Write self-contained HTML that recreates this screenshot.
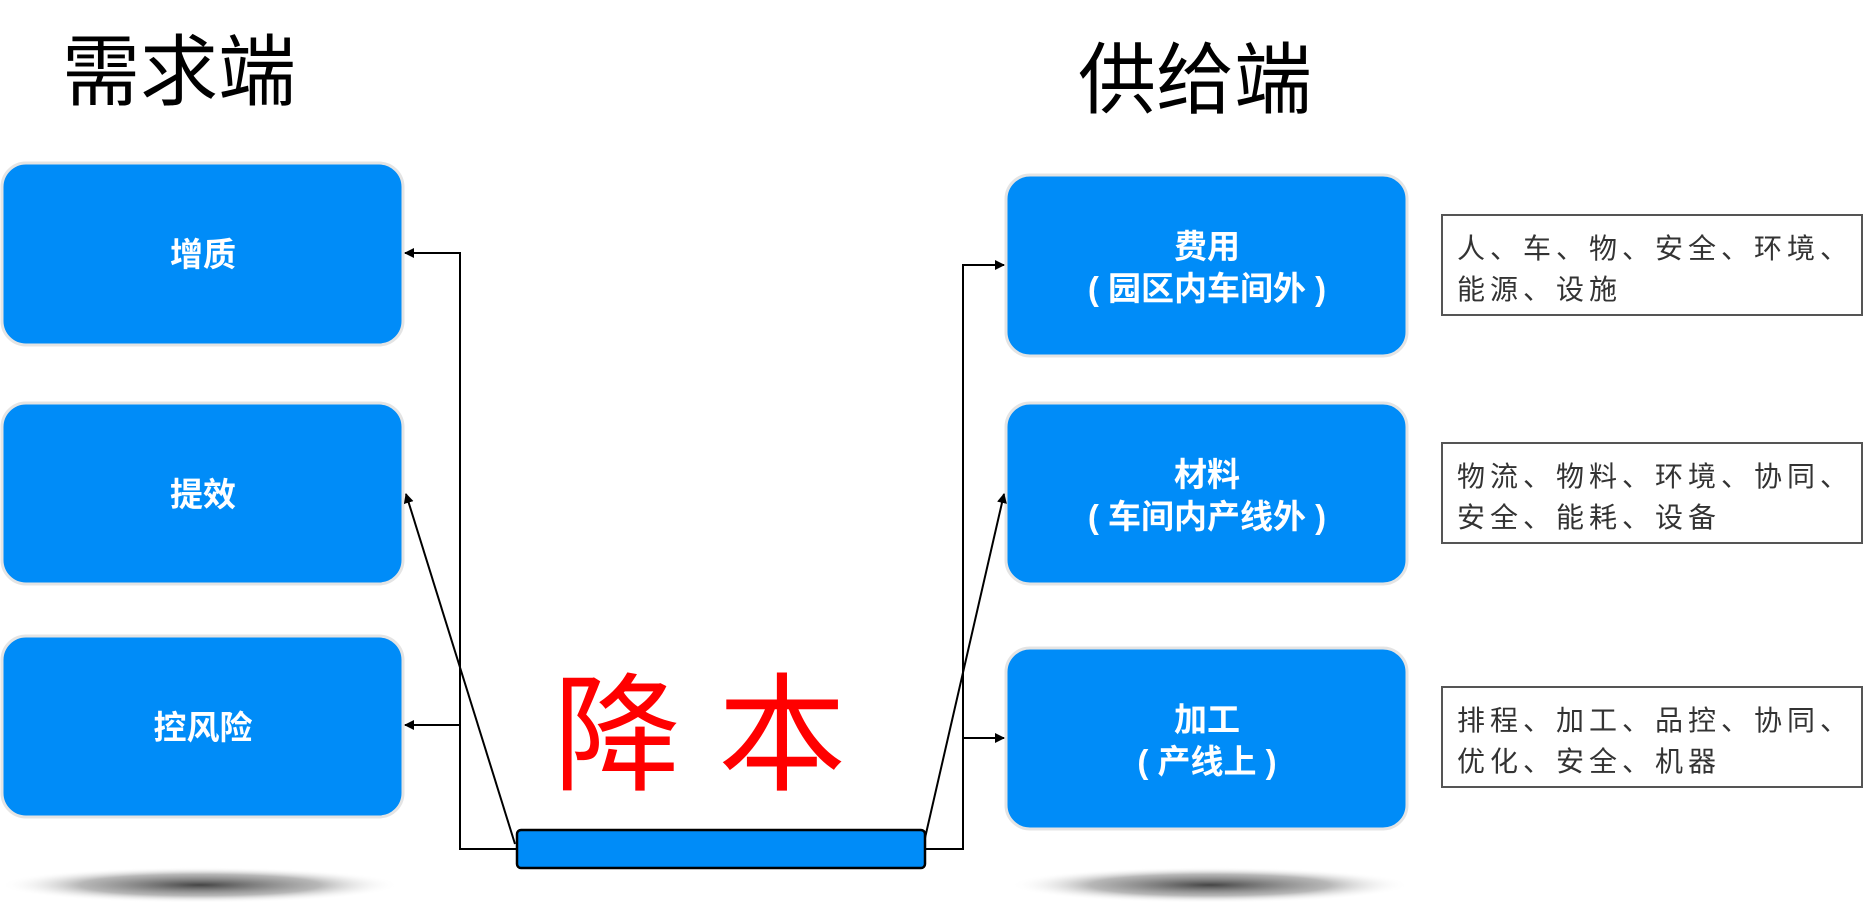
<!DOCTYPE html>
<html><head><meta charset="utf-8"><style>
html,body{margin:0;padding:0;background:#fff;}
svg{display:block;}
text{font-family:"Liberation Sans","Noto Sans CJK SC",sans-serif;}
</style></head><body>
<svg width="1864" height="909" viewBox="0 0 1864 909" xmlns="http://www.w3.org/2000/svg">
<defs>
<radialGradient id="sh" cx="50%" cy="50%" r="50%">
<stop offset="0" stop-color="#444"/><stop offset="0.6" stop-color="#888" stop-opacity="0.6"/><stop offset="1" stop-color="#fff" stop-opacity="0"/>
</radialGradient>
<marker id="ar" markerWidth="10" markerHeight="10" refX="9" refY="5" orient="auto" markerUnits="userSpaceOnUse">
<path d="M0,0 L10,5 L0,10 z" fill="#000"/></marker>
</defs>
<text x="62" y="99" font-size="78" fill="#000">需求端</text>
<text x="1078" y="107" font-size="78" fill="#000">供给端</text>

<ellipse cx="200" cy="885" rx="200" ry="18" fill="url(#sh)"/>
<ellipse cx="1210" cy="885" rx="200" ry="18" fill="url(#sh)"/>

<g fill="#008cf8" stroke="#e4e4e4" stroke-width="3">
<rect x="2" y="163" width="401" height="182" rx="24"/>
<rect x="2" y="403" width="401" height="181" rx="24"/>
<rect x="2" y="636" width="401" height="181" rx="24"/>
<rect x="1006" y="175" width="401" height="181" rx="24"/>
<rect x="1006" y="403" width="401" height="181" rx="24"/>
<rect x="1006" y="648" width="401" height="181" rx="24"/>
</g>
<g fill="#fff" font-size="33" font-weight="bold" text-anchor="middle">
<text x="203" y="266">增质</text>
<text x="203" y="506">提效</text>
<text x="203" y="739">控风险</text>
<text x="1207" y="258">费用</text>
<text x="1207" y="300">( 园区内车间外 )</text>
<text x="1207" y="486">材料</text>
<text x="1207" y="528">( 车间内产线外 )</text>
<text x="1207" y="731">加工</text>
<text x="1207" y="773">( 产线上 )</text>
</g>

<g fill="#fff" stroke="#555" stroke-width="2">
<rect x="1442" y="215" width="420" height="100"/>
<rect x="1442" y="443" width="420" height="100"/>
<rect x="1442" y="687" width="420" height="100"/>
</g>
<g fill="#333" font-size="28" letter-spacing="5">
<text x="1457" y="258">人、车、物、安全、环境、</text>
<text x="1457" y="299">能源、设施</text>
<text x="1457" y="486">物流、物料、环境、协同、</text>
<text x="1457" y="527">安全、能耗、设备</text>
<text x="1457" y="730">排程、加工、品控、协同、</text>
<text x="1457" y="771">优化、安全、机器</text>
</g>

<text x="553" y="780" font-size="128" fill="#ff0000">降</text>
<text x="718" y="780" font-size="128" fill="#ff0000">本</text>

<g stroke="#000" stroke-width="2" fill="none">
<polyline points="517,849 460,849 460,253 405,253" marker-end="url(#ar)"/>
<line x1="460" y1="725" x2="405" y2="725" marker-end="url(#ar)"/>
<line x1="515" y1="844" x2="406" y2="494" marker-end="url(#ar)"/>
<polyline points="925,849 963,849 963,265 1004,265" marker-end="url(#ar)"/>
<line x1="963" y1="738" x2="1004" y2="738" marker-end="url(#ar)"/>
<line x1="925" y1="838" x2="1004" y2="494" marker-end="url(#ar)"/>
</g>
<rect x="517" y="830" width="408" height="38" rx="4" fill="#008cf8" stroke="#000" stroke-width="2.5"/>
</svg>
</body></html>
